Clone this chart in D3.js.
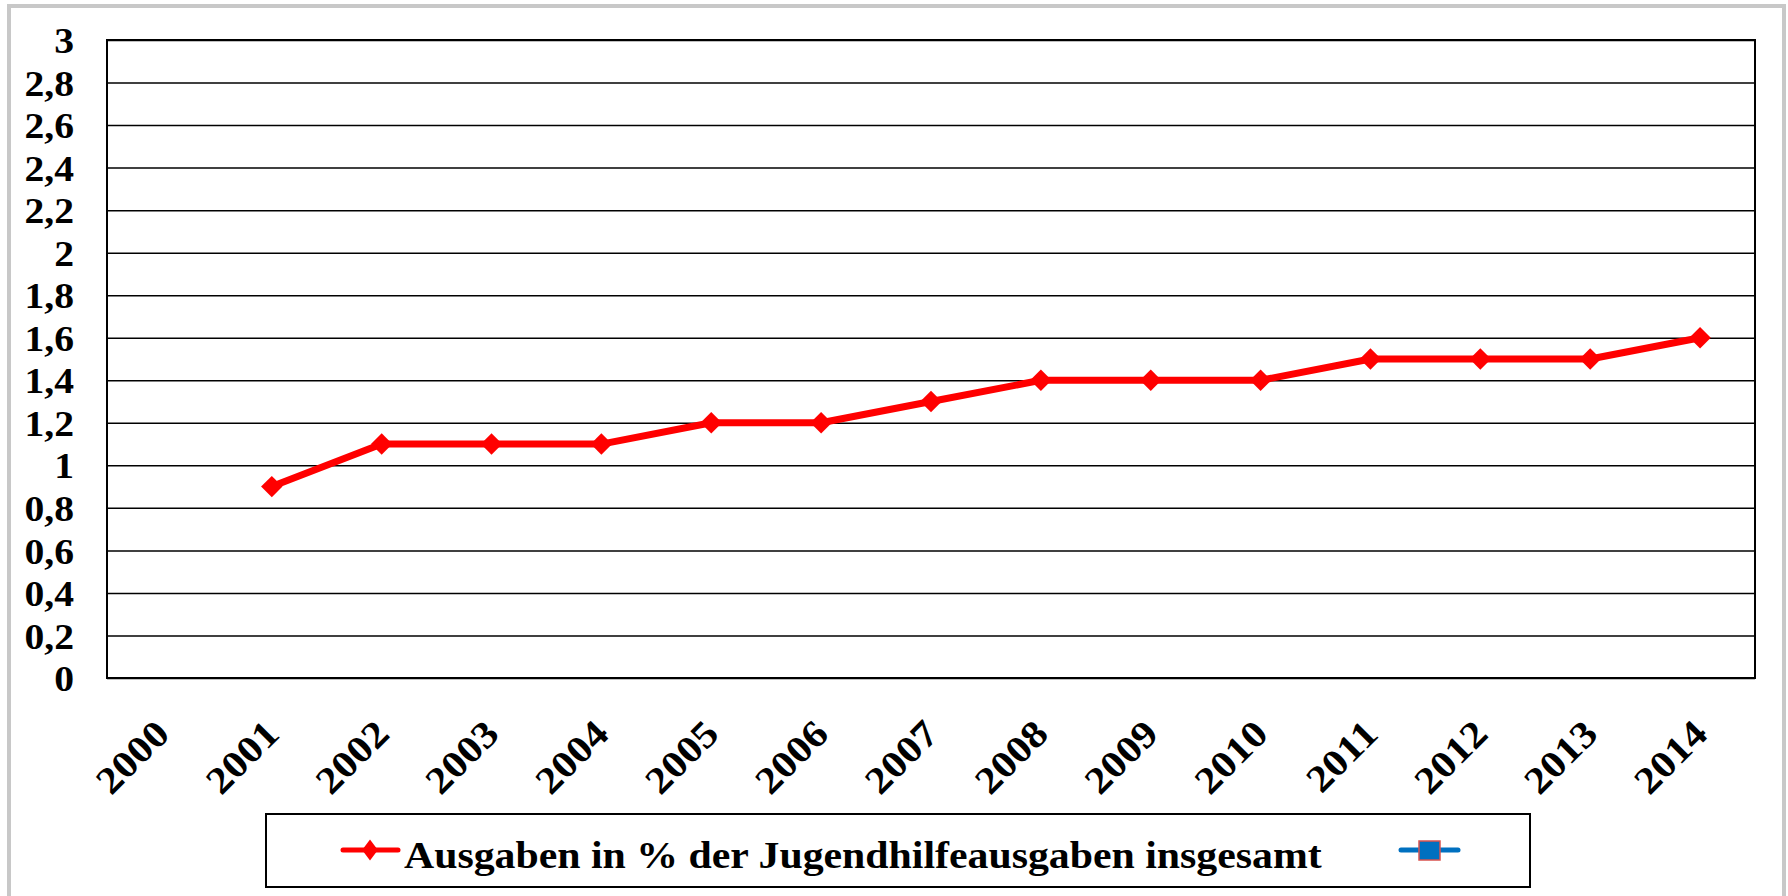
<!DOCTYPE html>
<html>
<head>
<meta charset="utf-8">
<script src="https://cdn.jsdelivr.net/npm/d3@7"></script>
<style>
  body { margin: 0; background: #fff; }
  svg text { font-family: "Liberation Serif", "Times New Roman", serif; font-weight: bold; fill: #000; }
</style>
</head>
<body>
<div id="chart"></div>
<script>
// chart values
const years = ["2000", "2001", "2002", "2003", "2004", "2005", "2006", "2007",
    "2008", "2009", "2010", "2011", "2012", "2013", "2014"];
const values = [null, 0.9, 1.1, 1.1, 1.1, 1.2, 1.2, 1.3, 1.4, 1.4, 1.4, 1.5, 1.5, 1.5, 1.6];
const yTicks = [0, 0.2, 0.4, 0.6, 0.8, 1, 1.2, 1.4, 1.6, 1.8, 2, 2.2, 2.4, 2.6, 2.8, 3];
const seriesNames = ["Ausgaben in % der Jugendhilfeausgaben insgesamt", ""];

const W = 1788, H = 896;
const plot = { left: 107, right: 1755, top: 40, bottom: 678 };
const stretch = 1.1; // the glyphs in the picture are a bit wider than Times

const svg = d3.select("#chart").append("svg")
    .attr("width", W)
    .attr("height", H);

// outer grey frame
svg.append("rect")
    .attr("x", 9).attr("y", 6)
    .attr("width", 1775).attr("height", 920)
    .attr("fill", "none")
    .attr("stroke", "#c8c8c8")
    .attr("stroke-width", 4);

const x = d3.scalePoint()
    .domain(years)
    .range([plot.left, plot.right])
    .padding(0.5);

const y = d3.scaleLinear()
    .domain([0, 3])
    .range([plot.bottom, plot.top]);

const fmt = d => String(+d.toFixed(1)).replace(".", ",");

// y axis with gridlines
const yAxis = svg.append("g")
    .attr("transform", `translate(${plot.left},0)`)
    .call(d3.axisLeft(y)
        .tickValues(yTicks)
        .tickSize(-(plot.right - plot.left))
        .tickFormat(fmt));
yAxis.select(".domain").remove();
yAxis.selectAll(".tick line")
    .attr("stroke", "#000")
    .attr("stroke-width", 1.5);
yAxis.selectAll(".tick text")
    .attr("x", 0)
    .attr("dy", "0.35em")
    .attr("transform", `translate(-33,0) scale(${stretch},1)`)
    .style("font-size", "36px")
    .style("text-anchor", "end");

// plot border
svg.append("rect")
    .attr("x", plot.left).attr("y", plot.top)
    .attr("width", plot.right - plot.left)
    .attr("height", plot.bottom - plot.top)
    .attr("fill", "none")
    .attr("stroke", "#000")
    .attr("stroke-width", 2);

// x axis labels, rotated
const xAxis = svg.append("g")
    .attr("transform", `translate(0,${plot.bottom})`)
    .call(d3.axisBottom(x).tickSize(0));
xAxis.select(".domain").remove();
xAxis.selectAll(".tick text")
    .attr("x", 0).attr("y", 0).attr("dy", 0)
    .attr("transform", `translate(9,58) rotate(-45) scale(1.12,1)`)
    .style("font-size", "38px")
    .style("text-anchor", "end");

// series line
const pts = years.map((yr, i) => ({ yr, v: values[i] }));
const line = d3.line()
    .defined(d => d.v != null)
    .x(d => x(d.yr))
    .y(d => y(d.v));

svg.append("path")
    .datum(pts)
    .attr("d", line)
    .attr("fill", "none")
    .attr("stroke", "#ff0000")
    .attr("stroke-width", 7)
    .attr("stroke-linejoin", "round");

svg.selectAll(".marker")
    .data(pts.filter(d => d.v != null))
    .enter().append("path")
    .attr("class", "marker")
    .attr("transform", d => `translate(${x(d.yr)},${y(d.v)}) rotate(45)`)
    .attr("d", d3.symbol().type(d3.symbolSquare).size(230))
    .attr("fill", "#ff0000");

// legend
const legend = svg.append("g").attr("class", "legend");
legend.append("rect")
    .attr("x", 266).attr("y", 814)
    .attr("width", 1264).attr("height", 73)
    .attr("fill", "#fff")
    .attr("stroke", "#000")
    .attr("stroke-width", 2);

legend.append("line")
    .attr("x1", 343).attr("x2", 398)
    .attr("y1", 850).attr("y2", 850)
    .attr("stroke", "#ff0000")
    .attr("stroke-width", 5)
    .attr("stroke-linecap", "round");
legend.append("path")
    .attr("transform", "translate(370,850) scale(0.75,1) rotate(45)")
    .attr("d", d3.symbol().type(d3.symbolSquare).size(220))
    .attr("fill", "#ff0000");
legend.append("text")
    .attr("transform", `translate(404,868) scale(1.1,1)`)
    .style("font-size", "38px")
    .text(seriesNames[0]);

legend.append("line")
    .attr("x1", 1401).attr("x2", 1458)
    .attr("y1", 850).attr("y2", 850)
    .attr("stroke", "#0070c0")
    .attr("stroke-width", 5)
    .attr("stroke-linecap", "round");
legend.append("rect")
    .attr("x", 1419).attr("y", 841)
    .attr("width", 21).attr("height", 19)
    .attr("fill", "#0070c0")
    .attr("stroke", "#d9534f")
    .attr("stroke-width", 1.5);
legend.append("text")
    .attr("x", 1470).attr("y", 868)
    .style("font-size", "38px")
    .text(seriesNames[1]);
</script>
</body>
</html>
